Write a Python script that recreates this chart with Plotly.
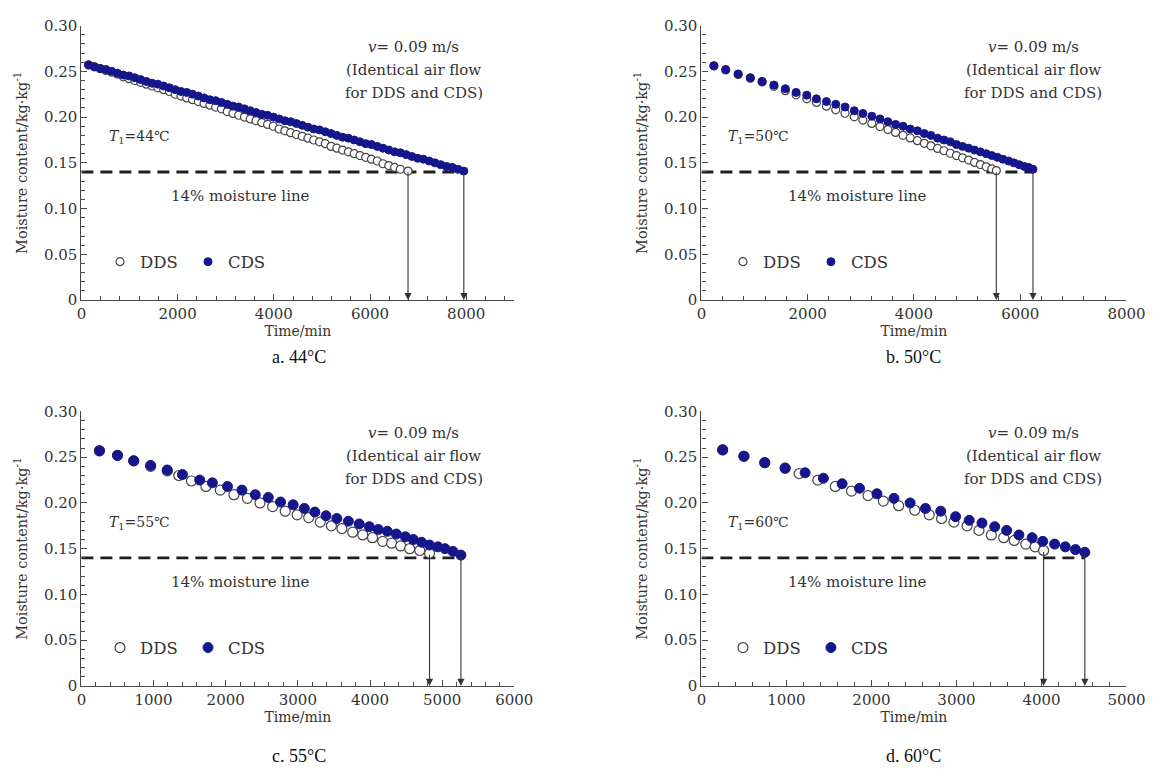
import plotly.graph_objects as go

# ---------------- data ----------------
moisture_line = 0.14

a_cds_t = [150, 270, 390, 510, 630, 750, 870, 990, 1110, 1230, 1350, 1470, 1590, 1710, 1830,
           1950, 2070, 2190, 2310, 2430, 2550, 2670, 2790, 2910, 3030, 3150, 3270, 3390, 3510,
           3630, 3750, 3870, 3990, 4110, 4230, 4350, 4470, 4590, 4710, 4830, 4950, 5070, 5190,
           5310, 5430, 5550, 5670, 5790, 5910, 6030, 6150, 6270, 6390, 6510, 6630, 6750, 6870,
           6990, 7110, 7230, 7350, 7470, 7590, 7710, 7830, 7950]
a_cds_m = [0.257, 0.255, 0.253, 0.252, 0.250, 0.248, 0.246, 0.245, 0.243, 0.241, 0.239, 0.237,
           0.236, 0.234, 0.232, 0.230, 0.228, 0.227, 0.225, 0.223, 0.221, 0.219, 0.218, 0.216,
           0.214, 0.212, 0.211, 0.209, 0.207, 0.205, 0.203, 0.202, 0.200, 0.198, 0.196, 0.195,
           0.193, 0.191, 0.189, 0.187, 0.186, 0.184, 0.182, 0.180, 0.178, 0.177, 0.175, 0.173,
           0.171, 0.170, 0.168, 0.166, 0.164, 0.162, 0.161, 0.159, 0.157, 0.155, 0.154, 0.152,
           0.150, 0.148, 0.146, 0.145, 0.143, 0.141]
a_dds_t = [150, 270, 390, 510, 630, 750, 870, 990, 1110, 1230, 1350, 1470, 1590, 1710, 1830,
           1950, 2070, 2190, 2310, 2430, 2550, 2670, 2790, 2910, 3030, 3150, 3270, 3390, 3510,
           3630, 3750, 3870, 3990, 4110, 4230, 4350, 4470, 4590, 4710, 4830, 4950, 5070, 5190,
           5310, 5430, 5550, 5670, 5790, 5910, 6030, 6150, 6270, 6390, 6510, 6630, 6790]
a_dds_m = [0.257, 0.255, 0.253, 0.251, 0.249, 0.247, 0.244, 0.242, 0.240, 0.238, 0.236, 0.234,
           0.232, 0.230, 0.228, 0.225, 0.223, 0.221, 0.219, 0.217, 0.215, 0.213, 0.211, 0.209,
           0.206, 0.204, 0.202, 0.200, 0.198, 0.196, 0.194, 0.192, 0.190, 0.187, 0.185, 0.183,
           0.181, 0.179, 0.177, 0.175, 0.173, 0.171, 0.168, 0.166, 0.164, 0.162, 0.160, 0.158,
           0.156, 0.154, 0.152, 0.149, 0.147, 0.145, 0.143, 0.141]

b_cds_t = [235, 457, 692, 921, 1143, 1365, 1580, 1782, 1983, 2165, 2353, 2528, 2703, 2877,
           3039, 3207, 3361, 3510, 3655, 3795, 3930, 4065, 4195, 4320, 4445, 4565, 4685, 4800,
           4915, 5030, 5140, 5250, 5360, 5465, 5570, 5675, 5780, 5880, 5980, 6080, 6160, 6240]
b_cds_m = [0.256, 0.252, 0.247, 0.243, 0.239, 0.235, 0.231, 0.227, 0.224, 0.220, 0.217, 0.214,
           0.211, 0.207, 0.204, 0.201, 0.198, 0.195, 0.192, 0.190, 0.187, 0.185, 0.182, 0.180,
           0.177, 0.175, 0.173, 0.170, 0.168, 0.166, 0.164, 0.162, 0.160, 0.158, 0.156, 0.154,
           0.152, 0.150, 0.148, 0.146, 0.145, 0.143]
b_dds_t = [235, 457, 692, 921, 1143, 1365, 1580, 1782, 1983, 2165, 2353, 2528, 2703, 2877,
           3039, 3207, 3361, 3510, 3655, 3795, 3930, 4065, 4195, 4320, 4445, 4565, 4685, 4800,
           4915, 5030, 5140, 5250, 5360, 5465, 5550]
b_dds_m = [0.256, 0.2515, 0.2467, 0.2425, 0.2385, 0.2336, 0.2289, 0.2244, 0.2200, 0.2160,
           0.2119, 0.2080, 0.2042, 0.2003, 0.1968, 0.1931, 0.1897, 0.1864, 0.1832, 0.1801,
           0.1772, 0.1742, 0.1713, 0.1686, 0.1658, 0.1632, 0.1605, 0.1580, 0.1555, 0.1530,
           0.1505, 0.1481, 0.1457, 0.1434, 0.1415]

c_cds_t = [250, 500, 725, 960, 1190, 1400, 1640, 1815, 2025, 2225, 2410, 2590, 2760, 2935,
           3090, 3235, 3390, 3540, 3700, 3850, 3990, 4115, 4240, 4365, 4490, 4600, 4715, 4825,
           4940, 5040, 5150, 5260]
c_cds_m = [0.257, 0.252, 0.246, 0.241, 0.236, 0.231, 0.225, 0.222, 0.218, 0.214, 0.209, 0.206,
           0.201, 0.198, 0.194, 0.190, 0.186, 0.183, 0.180, 0.177, 0.174, 0.171, 0.169, 0.166,
           0.163, 0.160, 0.157, 0.154, 0.152, 0.150, 0.147, 0.143]
c_dds_t = [250, 500, 725, 960, 1190, 1350, 1525, 1725, 1925, 2115, 2300, 2475, 2650, 2825,
           2990, 3150, 3310, 3465, 3610, 3760, 3900, 4035, 4175, 4300, 4425, 4550, 4690, 4825]
c_dds_m = [0.257, 0.252, 0.246, 0.240, 0.235, 0.230, 0.224, 0.218, 0.214, 0.209, 0.205, 0.200,
           0.196, 0.191, 0.187, 0.184, 0.179, 0.175, 0.172, 0.168, 0.165, 0.162, 0.158, 0.156,
           0.153, 0.150, 0.148, 0.145]

d_cds_t = [250, 500, 745, 985, 1220, 1435, 1655, 1860, 2065, 2265, 2455, 2635, 2815, 2990,
           3150, 3300, 3450, 3590, 3735, 3890, 4015, 4155, 4280, 4400, 4510]
d_cds_m = [0.258, 0.251, 0.244, 0.238, 0.233, 0.227, 0.221, 0.216, 0.210, 0.205, 0.200, 0.194,
           0.191, 0.185, 0.181, 0.178, 0.174, 0.170, 0.165, 0.162, 0.158, 0.155, 0.152, 0.149,
           0.146]
d_dds_t = [250, 500, 745, 985, 1150, 1370, 1575, 1765, 1960, 2140, 2320, 2510, 2680, 2825,
           2970, 3125, 3265, 3410, 3555, 3680, 3815, 3925, 4025]
d_dds_m = [0.258, 0.251, 0.244, 0.238, 0.232, 0.225, 0.218, 0.213, 0.208, 0.202, 0.197, 0.192,
           0.187, 0.183, 0.179, 0.175, 0.170, 0.165, 0.162, 0.159, 0.155, 0.152, 0.148]

temperatures = ["44", "50", "55", "60"]
panel_letters = ["a", "b", "c", "d"]
x_max = [9000, 8000, 6000, 5000]
x_major = [2000, 2000, 1000, 1000]
x_minor = [400, 400, 200, 200]
y_tickvals = [0, 0.05, 0.10, 0.15, 0.20, 0.25, 0.30]
y_ticktext = ["0", "0.05", "0.10", "0.15", "0.20", "0.25", "0.30"]
series_names = ["DDS", "CDS"]
air_text = ["<i>v</i>= 0.09 m/s", "(Identical air flow", "for DDS and CDS)"]

# ---------------- styling ----------------
W, H = 1169, 776
FONT = "DejaVu Serif"          # wide serif, like the stretched figure text
CAP_FONT = "Liberation Serif"  # captions are plain Times-like text
TXT = "#333333"
NAVY = "#16168c"
AX = "#4a4a4a"

x_dom = [[78 / W, 520 / W], [711 / W, 1145 / W], [78 / W, 520 / W], [711 / W, 1145 / W]]
y_dom = [[1 - 298 / H, 1 - 17 / H], [1 - 298 / H, 1 - 17 / H],
         [1 - 693 / H, 1 - 412 / H], [1 - 693 / H, 1 - 412 / H]]
marker_size = [8, 8, 10, 10]

panels = [
    (a_dds_t, a_dds_m, a_cds_t, a_cds_m),
    (b_dds_t, b_dds_m, b_cds_t, b_cds_m),
    (c_dds_t, c_dds_m, c_cds_t, c_cds_m),
    (d_dds_t, d_dds_m, d_cds_t, d_cds_m),
]

fig = go.Figure()
annotations = []
layout = dict(
    width=W, height=H, margin=dict(l=0, r=0, t=0, b=0),
    paper_bgcolor="white", plot_bgcolor="white",
    font=dict(family=FONT, color=TXT, size=15),
    showlegend=True,
)

legend_y = [1 - 259 / H, 1 - 259 / H, 1 - 654 / H, 1 - 654 / H]
legend_x = [97 / W, 733 / W, 97 / W, 733 / W]

for i, (dt, dm, ct, cm) in enumerate(panels):
    k = "" if i == 0 else str(i + 1)
    xa, ya = "x" + k, "y" + k
    lg = "legend" + k
    # 14 % moisture line
    fig.add_trace(go.Scatter(
        x=[0, ct[-1]], y=[moisture_line, moisture_line], mode="lines",
        line=dict(color="#1e1e1e", width=2.8, dash="12px,7px"),
        xaxis=xa, yaxis=ya, showlegend=False, hoverinfo="skip"))
    fig.add_trace(go.Scatter(
        x=dt, y=dm, mode="markers", name=series_names[0],
        marker=dict(symbol="circle", size=marker_size[i], color="white",
                    line=dict(color="#444444", width=1.2)),
        xaxis=xa, yaxis=ya, legend=lg))
    fig.add_trace(go.Scatter(
        x=ct, y=cm, mode="markers", name=series_names[1],
        marker=dict(symbol="circle", size=marker_size[i], color=NAVY,
                    line=dict(color=NAVY, width=1)),
        xaxis=xa, yaxis=ya, legend=lg))

    layout["xaxis" + k] = dict(
        domain=x_dom[i], anchor=ya, range=[0, x_max[i]], dtick=x_major[i], tick0=0,
        tickformat="d", showline=True, linecolor=AX, linewidth=1.2,
        ticks="inside", ticklen=6, tickwidth=1.2, tickcolor=AX,
        minor=dict(dtick=x_minor[i], tick0=0, ticks="inside", ticklen=4, tickwidth=1,
                   tickcolor=AX),
        showgrid=False, zeroline=False,
        tickfont=dict(family=FONT, size=15, color=TXT),
        title=dict(text="Time/min", font=dict(family=FONT, size=14, color=TXT), standoff=0),
    )
    layout["yaxis" + k] = dict(
        domain=y_dom[i], anchor=xa, range=[0, 0.30],
        tickvals=y_tickvals, ticktext=y_ticktext,
        showline=True, linecolor=AX, linewidth=1.2,
        ticks="inside", ticklen=6, tickwidth=1.2, tickcolor=AX,
        minor=dict(dtick=0.01, tick0=0, ticks="inside", ticklen=4, tickwidth=1,
                   tickcolor=AX),
        showgrid=False, zeroline=False,
        tickfont=dict(family=FONT, size=15, color=TXT),
        title=dict(text="Moisture content/kg·kg<sup>-1</sup>",
                   font=dict(family=FONT, size=14.5, color=TXT), standoff=12),
    )
    layout[lg] = dict(
        x=legend_x[i], y=legend_y[i], xanchor="left", yanchor="middle",
        orientation="h", bgcolor="rgba(0,0,0,0)", borderwidth=0,
        font=dict(family=FONT, size=16.5, color=TXT),
        entrywidth=43, entrywidthmode="pixels", itemsizing="trace",
        itemclick=False, itemdoubleclick=False,
    )

    # arrows from the end of each series down to the time axis
    for tt, mm in ((dt, dm), (ct, cm)):
        annotations.append(dict(
            x=tt[-1], y=0, ax=tt[-1], ay=mm[-1], xref=xa, yref=ya, axref=xa, ayref=ya,
            text="", showarrow=True, arrowhead=2, arrowsize=1.3, arrowwidth=1.1,
            arrowcolor="#333333", standoff=0, startstandoff=0))

    dx = xa + " domain"
    dy = ya + " domain"
    cx = 0.768 if i % 2 == 0 else 0.781
    for j, (line_txt, yy) in enumerate(zip(air_text, [0.922, 0.838, 0.754])):
        annotations.append(dict(x=cx, y=yy, xref=dx, yref=dy, text=line_txt, showarrow=False,
                                xanchor="center", yanchor="middle",
                                font=dict(family=FONT, size=15, color=TXT)))
    annotations.append(dict(x=0.135, y=0.178 / 0.30, xref=dx, yref=dy,
                            text="<i>T</i><sub>1</sub>=" + temperatures[i] + "℃",
                            showarrow=False, xanchor="center", yanchor="middle",
                            font=dict(family=FONT, size=14, color=TXT)))
    annotations.append(dict(x=0.367, y=0.1135 / 0.30, xref=dx, yref=dy,
                            text="14% moisture line", showarrow=False,
                            xanchor="center", yanchor="middle",
                            font=dict(family=FONT, size=15, color=TXT)))
    # caption
    cap_x = 300 / W if i % 2 == 0 else 928 / W
    cap_y = 1 - 356 / H if i < 2 else 1 - 765 / H
    annotations.append(dict(x=cap_x, y=cap_y, xref="paper", yref="paper",
                            text=panel_letters[i] + ". " + temperatures[i] + "°C",
                            showarrow=False, xanchor="center", yanchor="middle",
                            font=dict(family=CAP_FONT, size=18, color="#111111")))

layout["annotations"] = annotations
fig.update_layout(**layout)
fig.write_html("out.html")
